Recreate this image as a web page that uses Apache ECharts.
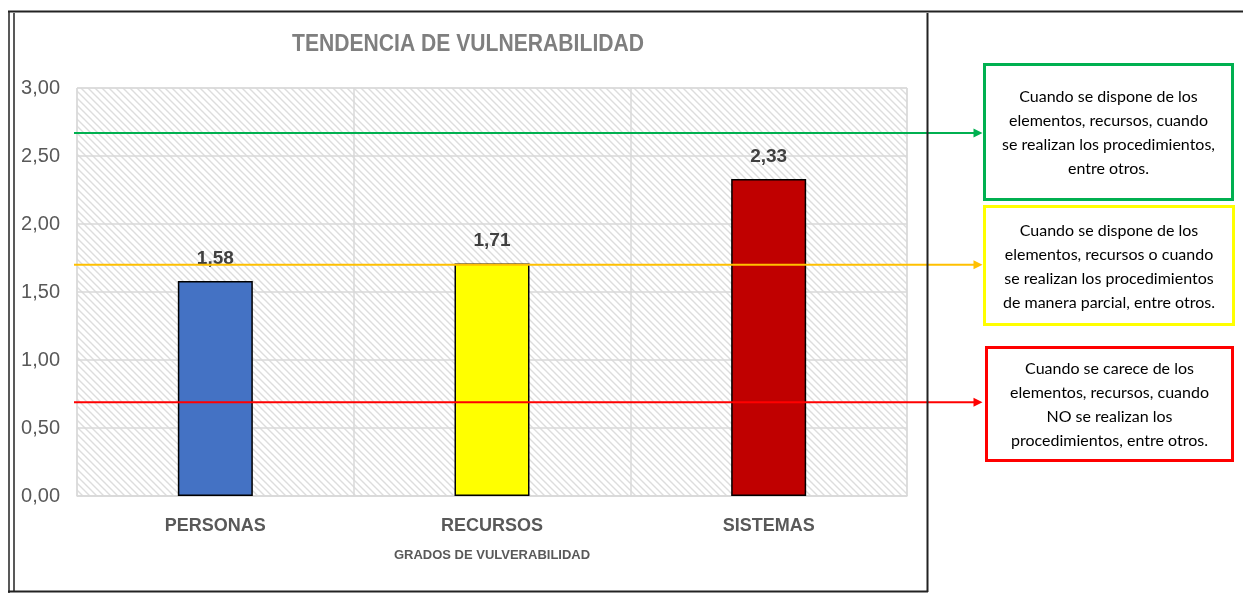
<!DOCTYPE html>
<html><head><meta charset="utf-8">
<script src="https://cdn.jsdelivr.net/npm/echarts@6/dist/echarts.min.js"></script>
<style>html,body{margin:0;padding:0;background:#fff}#c{width:1243px;height:597px}</style>
</head><body><div id="c"></div>
<script>
const categories = ['PERSONAS', 'RECURSOS', 'SISTEMAS'];
const values = [1.58, 1.71, 2.33];
const barColors = ['#4472C4', '#FFFF00', '#C00000'];
const yTicks = [0, 0.5, 1, 1.5, 2, 2.5, 3];
const thresholdValues = [2.67, 1.70, 0.69];
const thresholdColors = ['#00B050', '#FFC000', '#FF0000'];
const boxColors = ['#00B050', '#FFFF00', '#FF0000'];
const boxTexts = [
  'Cuando se dispone de los\nelementos, recursos, cuando\nse realizan los procedimientos,\nentre otros.',
  'Cuando se dispone de los\nelementos, recursos o cuando\nse realizan los procedimientos\nde manera parcial, entre otros.',
  'Cuando se carece de los\nelementos, recursos, cuando\nNO se realizan los\nprocedimientos, entre otros.'
];
const titleText = 'TENDENCIA DE VULNERABILIDAD';
const xAxisName = 'GRADOS DE VULVERABILIDAD';

const NARROW = "'Liberation Sans Narrow','Arial Narrow','Liberation Sans',Arial,sans-serif";

function hatch() {
  const c = document.createElement('canvas');
  c.width = 7; c.height = 7;
  const g = c.getContext('2d');
  g.fillStyle = '#ffffff'; g.fillRect(0, 0, 7, 7);
  g.strokeStyle = '#dddddd'; g.lineWidth = 1.4;
  g.beginPath();
  g.moveTo(-1, -1); g.lineTo(8, 8);
  g.moveTo(-1, 6); g.lineTo(1, 8);
  g.moveTo(6, -1); g.lineTo(8, 1);
  g.stroke();
  return c;
}

const chart = echarts.init(document.getElementById('c'), null, {renderer: 'canvas'});

const boxes = [
  {x: 984.5, y: 64.5, w: 248, h: 135},
  {x: 984.5, y: 206.5, w: 249, h: 118},
  {x: 986.5, y: 347.5, w: 246, h: 113}
];

const graphics = [];
// outer frame
graphics.push({type: 'line', shape: {x1: 8, y1: 11.5, x2: 1243, y2: 11.5}, style: {stroke: '#222', lineWidth: 2}, z: 100});
graphics.push({type: 'line', shape: {x1: 9, y1: 11, x2: 9, y2: 593}, style: {stroke: '#222', lineWidth: 1.5}, z: 100});
graphics.push({type: 'line', shape: {x1: 14, y1: 13, x2: 14, y2: 591}, style: {stroke: '#222', lineWidth: 1.5}, z: 100});
graphics.push({type: 'line', shape: {x1: 927.5, y1: 13, x2: 927.5, y2: 592}, style: {stroke: '#222', lineWidth: 2}, z: 100});
graphics.push({type: 'line', shape: {x1: 8, y1: 591.5, x2: 928, y2: 591.5}, style: {stroke: '#222', lineWidth: 2}, z: 100});
// title (condensed like the original)
graphics.push({type: 'text', x: 468, y: 44, scaleX: 0.88,
  style: {text: titleText, fill: '#7f7f7f', font: "bold 24px 'Liberation Sans', Arial, sans-serif",
    align: 'center', verticalAlign: 'middle'}, z: 100});
boxes.forEach((b, i) => {
  graphics.push({type: 'rect', shape: {x: b.x, y: b.y, width: b.w, height: b.h},
    style: {fill: '#fff', stroke: boxColors[i], lineWidth: 3}, z: 100});
  graphics.push({type: 'text', x: b.x + b.w / 2, y: b.y + b.h / 2 + 1,
    style: {text: boxTexts[i], fill: '#000', font: "16px Lato, 'Open Sans', sans-serif",
      lineHeight: 24, align: 'center', verticalAlign: 'middle'}, z: 101});
});

const lineSeries = thresholdValues.map((v, i) => ({
  type: 'line', xAxisIndex: 1, yAxisIndex: 1, z: 10,
  data: [{value: [0, v], symbol: 'none'},
         {value: [1, v], symbol: 'triangle', symbolSize: [9, 9], symbolRotate: -90}],
  lineStyle: {color: thresholdColors[i], width: 2},
  itemStyle: {color: thresholdColors[i]},
  silent: true, animation: false
}));

chart.setOption({
  animation: false,
  grid: [
    {left: 77, top: 88, width: 830, height: 408, show: true,
      backgroundColor: {image: hatch(), repeat: 'repeat'}, borderColor: '#d9d9d9', borderWidth: 1},
    {left: 74, top: 88, width: 904, height: 408}
  ],
  xAxis: [
    {type: 'category', gridIndex: 0, data: categories,
      axisLine: {lineStyle: {color: '#d9d9d9', width: 1.5}}, axisTick: {show: false},
      splitLine: {show: true, lineStyle: {color: '#d9d9d9', width: 1.5}},
      axisLabel: {margin: 21, color: '#595959', fontFamily: NARROW, fontSize: 18, fontWeight: 'bold'},
      name: xAxisName, nameLocation: 'middle', nameGap: 53,
      nameTextStyle: {color: '#595959', fontFamily: NARROW, fontSize: 13, fontWeight: 'bold'}},
    {type: 'value', gridIndex: 1, min: 0, max: 1, show: false}
  ],
  yAxis: [
    {type: 'value', gridIndex: 0, min: yTicks[0], max: yTicks[yTicks.length - 1], interval: yTicks[1] - yTicks[0],
      axisLine: {show: false}, axisTick: {show: false},
      splitLine: {lineStyle: {color: '#d9d9d9', width: 1.5}},
      axisLabel: {margin: 17, color: '#595959', fontFamily: NARROW, fontSize: 20,
        formatter: v => v.toFixed(2).replace('.', ',')}},
    {type: 'value', gridIndex: 1, min: yTicks[0], max: yTicks[yTicks.length - 1], show: false}
  ],
  series: [
    {type: 'bar', xAxisIndex: 0, yAxisIndex: 0, barWidth: 75, z: 5,
      data: values.map((v, i) => ({value: v, itemStyle: {color: barColors[i]}})),
      itemStyle: {borderColor: '#000', borderWidth: 1.5},
      label: {show: true, position: 'top', distance: 13, color: '#404040',
        fontFamily: NARROW, fontSize: 19, fontWeight: 'bold',
        formatter: p => p.value.toFixed(2).replace('.', ',')}}
  ].concat(lineSeries),
  graphic: graphics
});
</script></body></html>
